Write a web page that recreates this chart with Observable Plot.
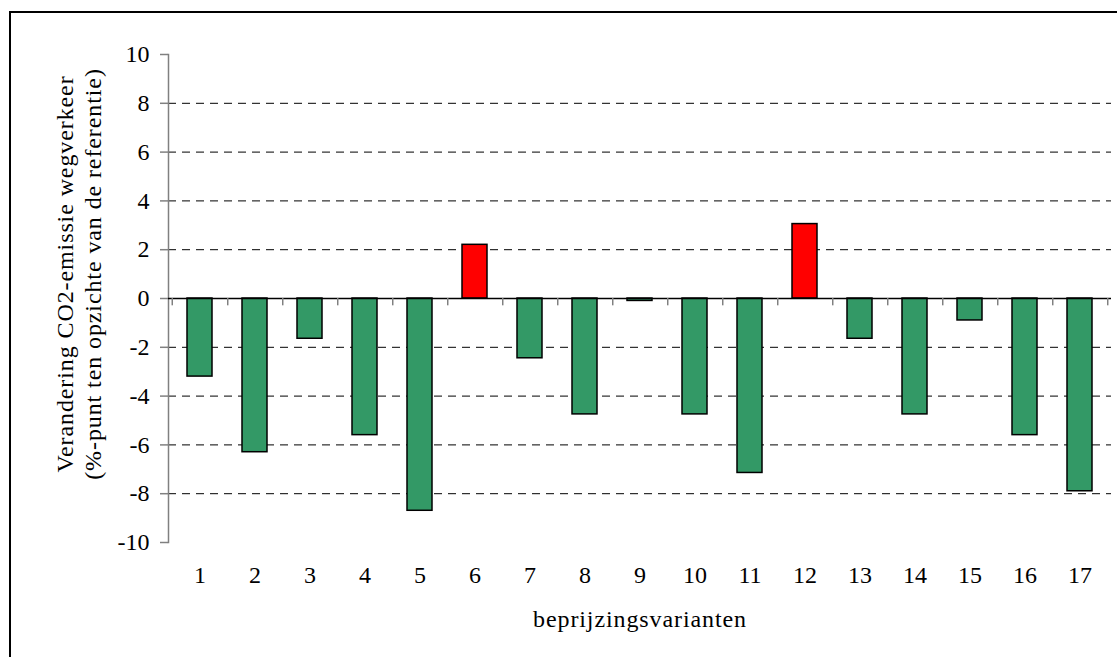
<!DOCTYPE html>
<html><head><meta charset="utf-8">
<script src="https://cdn.jsdelivr.net/npm/d3@7"></script>
<script src="https://cdn.jsdelivr.net/npm/@observablehq/plot@0.6"></script>
<style>
html,body{margin:0;padding:0;background:#fff;overflow:hidden;}
#wrap{position:relative;width:1117px;height:657px;overflow:hidden;}
#border{position:absolute;left:9px;top:11px;width:1200px;height:800px;border:2px solid #000;}
#chart{position:absolute;left:0;top:0;}
</style></head><body>
<div id="wrap"><div id="border"></div><div id="chart"></div></div>
<script>
const categories = ["1","2","3","4","5","6","7","8","9","10","11","12","13","14","15","16","17"];
const values = [-3.2, -6.3, -1.65, -5.6, -8.7, 2.2, -2.45, -4.75, -0.1, -4.75, -7.15, 3.05, -1.65, -4.75, -0.9, -5.6, -7.9];
const yTicks = [-10, -8, -6, -4, -2, 0, 2, 4, 6, 8, 10];
const gridValues = [-8, -6, -4, -2, 2, 4, 6, 8];
const yLabelLines = ["Verandering CO2-emissie wegverkeer", "(%-punt ten opzichte van de referentie)"];
const xLabel = "beprijzingsvarianten";

const data = categories.map((c, i) => ({cat: c, value: values[i]}));

const W = 1117, H = 657, ML = 168, MR = 6, MT = 54, MB = 115;
const step = (W - ML - MR) / categories.length;
const FONT = "'Liberation Serif', 'Times New Roman', serif";

const chart = Plot.plot({
  width: W, height: H,
  marginLeft: ML, marginRight: MR, marginTop: MT, marginBottom: MB,
  style: {fontFamily: FONT, fontSize: "24px", color: "black", background: "transparent"},
  x: {type: "band", domain: categories, paddingInner: 0.55, paddingOuter: 0.275},
  y: {domain: [-10, 10]},
  marks: [
    Plot.ruleY(gridValues, {stroke: "black", strokeDasharray: "8,6", strokeWidth: 1}),
    Plot.frame({anchor: "left", stroke: "#808080", strokeWidth: 1.5}),
    Plot.axisY({ticks: yTicks, tickSize: 8, tickPadding: 11, stroke: "#808080", strokeWidth: 1.5, fill: "black", label: null, tickFormat: d => String(d), fontSize: 24}),
    Plot.barY(data, {x: "cat", y: "value", fill: d => d.value > 0 ? "#ff0000" : "#339966", stroke: "black", strokeWidth: 1.5}),
    Plot.ruleY([0], {stroke: "black", strokeWidth: 1.5}),
    Plot.ruleX(categories, {x: d => d, y1: 0, y2: -0.3, dx: step / 2, stroke: "#808080", strokeWidth: 1.5}),
    Plot.ruleX([categories[0]], {x: d => d, y1: 0, y2: -0.3, dx: -step / 2, stroke: "#808080", strokeWidth: 1.5}),
    Plot.axisX({tickSize: 0, tickPadding: 23, label: null, fill: "black", fontSize: 24})
  ]
});
document.getElementById("chart").appendChild(chart);

const svg = d3.select(chart);
const labels = svg.append("g")
  .attr("font-family", FONT)
  .attr("font-size", 24)
  .attr("fill", "black")
  .attr("letter-spacing", "0.9px");
labels.append("text")
  .attr("x", 640).attr("y", 627)
  .attr("text-anchor", "middle")
  .text(xLabel);
yLabelLines.forEach((line, i) => {
  labels.append("text")
    .attr("transform", `translate(${73 + i * 28},274) rotate(-90)`)
    .attr("text-anchor", "middle")
    .text(line);
});
</script>
</body></html>
